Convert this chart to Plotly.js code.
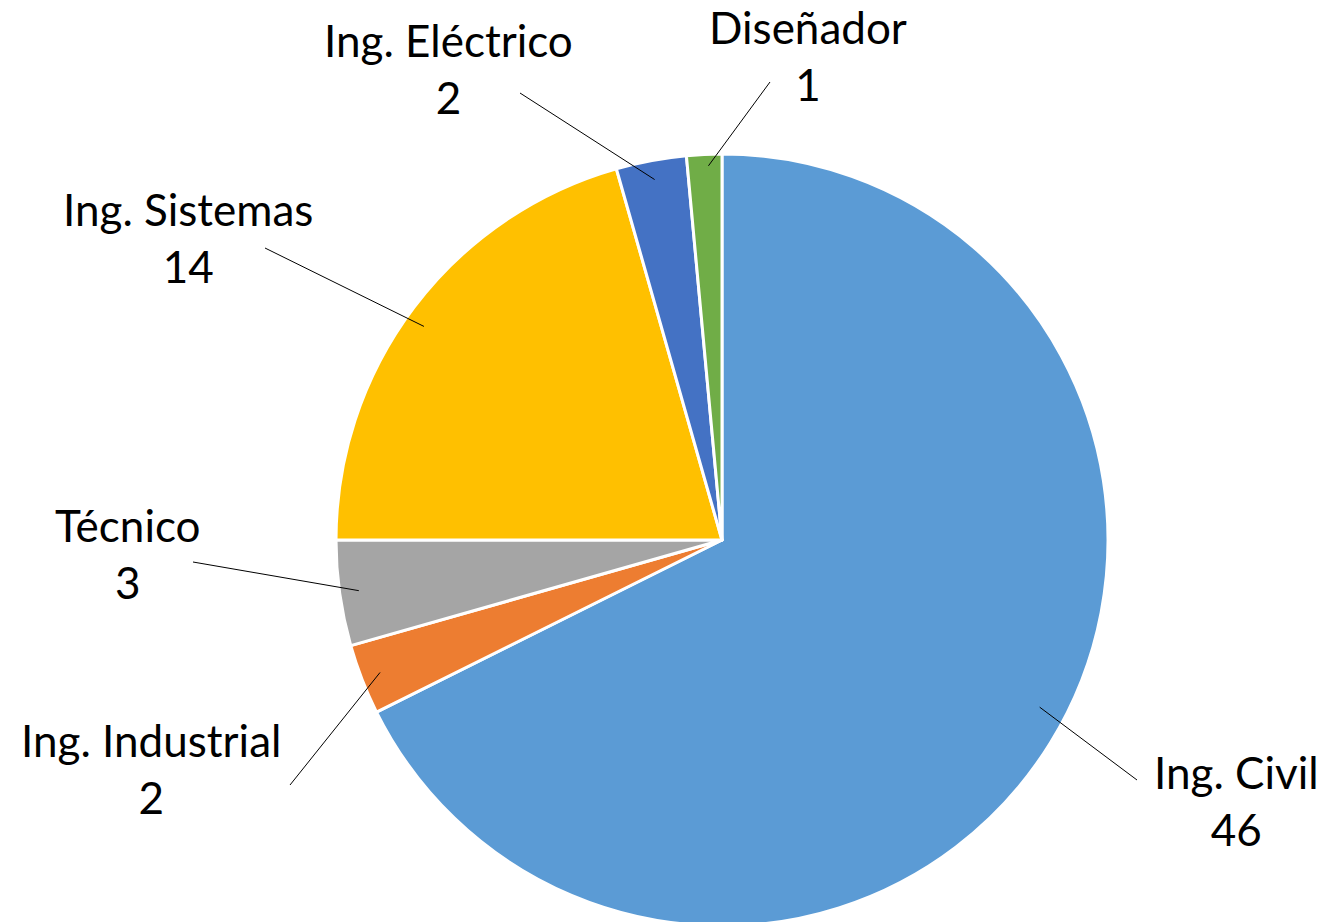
<!DOCTYPE html>
<html>
<head>
<meta charset="utf-8">
<script src="https://cdn.plot.ly/plotly-3.0.1.min.js"></script>
<style>html,body{margin:0;padding:0;background:#fff;overflow:hidden}#chart{width:1322px;height:930px}</style>
</head>
<body>
<div id="chart"></div>
<script>
// Data
const categories = ["Ing. Civil", "Ing. Industrial", "Técnico", "Ing. Sistemas", "Ing. Eléctrico", "Diseñador"];
const values = [46, 2, 3, 14, 2, 1];
const colors = ["#5B9BD5", "#ED7D31", "#A5A5A5", "#FFC000", "#4472C4", "#70AD47"];

// Layout constants (pixels); canvas slightly taller than window so pie bottom is clipped like the reference
const W = 1322, H = 930;
const cx = 722, cy = 540, R = 386;
// label text centres and leader-line end points (layout)
const labelPos = [[1236, 800], [151, 768], [128, 553], [188, 237], [448, 68], [808, 56]];
const lineEnd = [[1137, 780], [290, 785], [193, 562], [265, 248], [520, 93], [770, 82]];
const anchorFrac = [0.93, 0.95, 0.95, 0.95, 0.95, 0.97];
const anchorShift = [-0.07, 0, 0, -0.025, 0, 0.01]; // small angular nudges (radians)

const px2x = p => p / W;
const py2y = p => 1 - p / H;

const total = values.reduce((a, b) => a + b, 0);
let cum = 0;
const annotations = [], shapes = [];
values.forEach((v, i) => {
  const mid = (cum + v / 2) / total * 2 * Math.PI + anchorShift[i]; // clockwise from 12 o'clock
  cum += v;
  const ar = R * anchorFrac[i];
  const axp = cx + ar * Math.sin(mid);
  const ayp = cy - ar * Math.cos(mid);
  shapes.push({type: "line", xref: "paper", yref: "paper",
    x0: px2x(axp), y0: py2y(ayp), x1: px2x(lineEnd[i][0]), y1: py2y(lineEnd[i][1]),
    line: {color: "#000000", width: 1}});
  annotations.push({xref: "paper", yref: "paper", x: px2x(labelPos[i][0]), y: py2y(labelPos[i][1]),
    xanchor: "center", yanchor: "middle", showarrow: false, align: "center",
    text: categories[i] + "<br>" + v,
    font: {family: "Lato, 'Liberation Sans', sans-serif", size: 44, color: "#000000"}});
});

const trace = {
  type: "pie",
  labels: categories,
  values: values,
  sort: false,
  direction: "clockwise",
  rotation: 0,
  textinfo: "none",
  hoverinfo: "none",
  showlegend: false,
  marker: {colors: colors, line: {color: "#ffffff", width: 3}},
  domain: {x: [(cx - R) / W, (cx + R) / W], y: [1 - (cy + R) / H, 1 - (cy - R) / H]}
};

const layout = {
  width: W, height: H,
  margin: {l: 0, r: 0, t: 0, b: 0},
  paper_bgcolor: "#ffffff",
  showlegend: false,
  annotations: annotations,
  shapes: shapes
};

Plotly.newPlot("chart", [trace], layout, {staticPlot: true, displayModeBar: false});
</script>
</body>
</html>
